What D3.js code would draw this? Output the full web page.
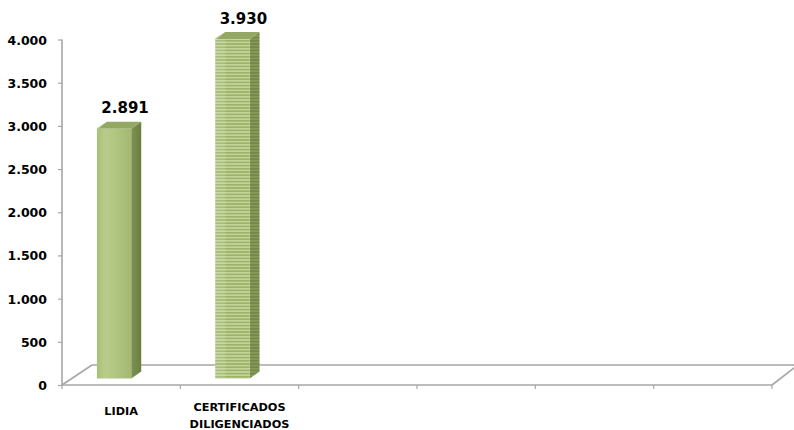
<!DOCTYPE html>
<html><head><meta charset="utf-8">
<script src="https://cdn.jsdelivr.net/npm/d3@7"></script>
<style>html,body{margin:0;padding:0;background:#fff;}svg{display:block;}</style>
</head><body>
<svg id="c" width="794" height="430"></svg>
<script>
const categories = ["LIDIA", "CERTIFICADOS\nDILIGENCIADOS", "c3", "c4", "c5", "c6"];
const categoryLabels = ["LIDIA", "CERTIFICADOS\nDILIGENCIADOS", "", "", "", ""];
const values = [2891, 3930, null, null, null, null];
const valueLabels = ["2.891", "3.930", "", "", "", ""];
const patterned = [false, true, false, false, false, false];
const yTicks = [0, 500, 1000, 1500, 2000, 2500, 3000, 3500, 4000];
const yTickLabels = ["0", "500", "1.000", "1.500", "2.000", "2.500", "3.000", "3.500", "4.000"];

const svg = d3.select("#c");
const font = "'DejaVu Sans', sans-serif";
const x = d3.scaleBand().domain(categories).range([62, 772]);
const y = d3.scaleLinear().domain([0, 4000]).range([385, 39.5]);

const defs = svg.append("defs");
const gFront = defs.append("linearGradient").attr("id", "gFront").attr("x1", 0).attr("x2", 1).attr("y1", 0).attr("y2", 0);
gFront.append("stop").attr("offset", 0).attr("stop-color", "#a9bf77");
gFront.append("stop").attr("offset", 0.25).attr("stop-color", "#b9cd8b");
gFront.append("stop").attr("offset", 1).attr("stop-color", "#a3b971");
const gSide = defs.append("linearGradient").attr("id", "gSide").attr("x1", 0).attr("x2", 1).attr("y1", 0).attr("y2", 0);
gSide.append("stop").attr("offset", 0).attr("stop-color", "#7d9150");
gSide.append("stop").attr("offset", 1).attr("stop-color", "#6c7f44");
const pat = defs.append("pattern").attr("id", "stripes").attr("patternUnits", "userSpaceOnUse")
  .attr("width", 6).attr("height", 3.2);
pat.append("rect").attr("width", 6).attr("height", 3.2).attr("fill", "#9cb266");
pat.append("rect").attr("y", 0).attr("width", 6).attr("height", 1.6).attr("fill", "#c3d49a");
const patSide = defs.append("pattern").attr("id", "stripesSide").attr("patternUnits", "userSpaceOnUse")
  .attr("width", 6).attr("height", 3.2);
patSide.append("rect").attr("width", 6).attr("height", 3.2).attr("fill", "#738747");
patSide.append("rect").attr("y", 0).attr("width", 6).attr("height", 1.6).attr("fill", "#869a5a");

// floor
const floorDx = 30, floorDy = -20;
const axisColor = "#a6a6a6";
const g = svg.append("g");
g.append("line").attr("x1", 62 + floorDx).attr("y1", y(0) + floorDy).attr("x2", 800).attr("y2", y(0) + floorDy)
  .attr("stroke", axisColor).attr("stroke-width", 1.6);
g.append("line").attr("x1", 62).attr("y1", y(0)).attr("x2", 62 + floorDx).attr("y2", y(0) + floorDy)
  .attr("stroke", axisColor).attr("stroke-width", 1.6);
g.append("line").attr("x1", 772).attr("y1", y(0)).attr("x2", 772 + 26).attr("y2", y(0) + floorDy)
  .attr("stroke", axisColor).attr("stroke-width", 1.6);

// bars
const dx = 10, dy = -7, depthShift = -6.5;
const bw = x.bandwidth();
const fw = bw * 0.29;
categories.forEach((c, i) => {
  if (values[i] == null) return;
  const L = x(c) + bw * 0.295, R = L + fw;
  const top = y(values[i]) + depthShift, bot = y(0) + depthShift;
  const bg = g.append("g");
  bg.append("path").attr("d", `M${R},${bot}L${R+dx},${bot+dy}L${R+dx},${top+dy}L${R},${top}Z`)
    .attr("fill", patterned[i] ? "url(#stripesSide)" : "url(#gSide)");
  bg.append("path").attr("d", `M${L},${top}L${L+dx},${top+dy}L${R+dx},${top+dy}L${R},${top}Z`)
    .attr("fill", "#93a863");
  bg.append("path").attr("d", `M${L},${top}L${L+dx*0.5},${top+dy*0.5}`)
    .attr("stroke", "#c8d7a4").attr("stroke-width", 1.2);
  bg.append("rect").attr("x", L).attr("y", top).attr("width", fw).attr("height", bot - top)
    .attr("fill", patterned[i] ? "url(#stripes)" : "url(#gFront)");
  if (patterned[i]) {
    bg.append("rect").attr("x", L).attr("y", top).attr("width", fw * 0.3).attr("height", bot - top)
      .attr("fill", "#ffffff").attr("opacity", 0.12);
  }
  g.append("text").attr("x", L + fw / 2 + 11).attr("y", top + dy - 8.5)
    .attr("text-anchor", "middle").attr("font-family", font).attr("font-weight", "bold")
    .attr("font-size", 15).attr("fill", "#000").text(valueLabels[i]);
});

// front floor edge / x axis
g.append("line").attr("x1", 62).attr("y1", y(0)).attr("x2", 772).attr("y2", y(0))
  .attr("stroke", axisColor).attr("stroke-width", 1.6);
const xTickPos = categories.map(c => x(c)).concat([772]);
xTickPos.forEach(p => {
  g.append("line").attr("x1", p).attr("x2", p).attr("y1", y(0)).attr("y2", y(0) + 4)
    .attr("stroke", axisColor).attr("stroke-width", 1.2);
});

// y axis
const yAxis = d3.axisLeft(y).tickValues(yTicks).tickFormat((d, i) => yTickLabels[i]).tickSize(4).tickPadding(11);
const ya = svg.append("g").attr("transform", "translate(62,0)").call(yAxis);
ya.select(".domain").attr("stroke", axisColor).attr("stroke-width", 1.6).attr("d", `M-0,${y(4000)}V${y(0)}`);
ya.selectAll(".tick line").attr("stroke", axisColor).attr("stroke-width", 1.2);
ya.selectAll(".tick text").attr("font-family", font).attr("font-weight", "bold").attr("font-size", 12.5)
  .attr("fill", "#000").attr("dy", "0.36em");

// category labels
categories.forEach((c, i) => {
  const lines = categoryLabels[i].split("\n").filter(s => s);
  const cx = x(c) + bw / 2;
  lines.forEach((t, j) => {
    const base = lines.length === 1 ? 415 : 410.5 + j * 17.5;
    svg.append("text").attr("x", cx).attr("y", base).attr("text-anchor", "middle")
      .attr("font-family", font).attr("font-weight", "bold").attr("font-size", 11.3)
      .attr("fill", "#000").text(t);
  });
});
</script>
</body></html>
